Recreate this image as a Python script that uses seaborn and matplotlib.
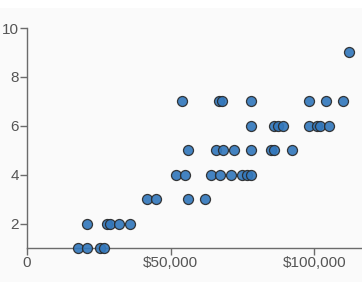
import matplotlib
matplotlib.use("Agg")
import matplotlib.pyplot as plt
import seaborn as sns
import pandas as pd
from matplotlib.patches import Rectangle

# Data (income in dollars, rating)
income = [17800, 20900, 25500, 26800,
          20900, 27700, 29000, 31900, 35900,
          41900, 44800, 56100, 62000,
          51800, 54900, 64000, 67100, 71000, 74900, 76700, 77900,
          56100, 65900, 68100, 72000, 77900, 85000, 86100, 92100,
          78000, 85900, 87500, 89000, 98000, 100900, 102100, 105100,
          54000, 66900, 68000, 78000, 98000, 104100, 110100,
          112000]
rating = [1, 1, 1, 1,
          2, 2, 2, 2, 2,
          3, 3, 3, 3,
          4, 4, 4, 4, 4, 4, 4, 4,
          5, 5, 5, 5, 5, 5, 5, 5,
          6, 6, 6, 6, 6, 6, 6, 6,
          7, 7, 7, 7, 7, 7, 7,
          9]
x_ticks = [0, 50000, 100000]
x_tick_labels = ["0", "$50,000", "$100,000"]
y_ticks = [2, 4, 6, 8, 10]

df = pd.DataFrame({"income": income, "rating": rating})

sns.set_style("ticks")
plt.rcParams["font.family"] = ["Liberation Sans", "DejaVu Sans"]

W, H = 362, 282
fig = plt.figure(figsize=(W / 100, H / 100), dpi=100, facecolor="#fafafa")
fig.patches.append(Rectangle((0, 1 - 8 / H), 1, 8 / H, transform=fig.transFigure,
                             facecolor="white", edgecolor="none", zorder=-1))
ax = fig.add_axes([27 / W, 34 / H, 335 / W, 220 / H])
ax.set_facecolor("none")

sns.scatterplot(data=df, x="income", y="rating", ax=ax, s=52,
                color="#3479bd", edgecolor="#2a2a2a", linewidth=0.9,
                alpha=0.92, clip_on=False, zorder=3, legend=False)

ax.set_xlim(0, 116600)
ax.set_ylim(1, 10)
ax.set_xticks(x_ticks)
ax.set_xticklabels(x_tick_labels)
ax.set_yticks(y_ticks)
ax.set_xlabel("")
ax.set_ylabel("")

for s in ["top", "right"]:
    ax.spines[s].set_visible(False)
for s in ["left", "bottom"]:
    ax.spines[s].set_color("#6b6b6b")
    ax.spines[s].set_linewidth(1.0)

ax.tick_params(axis="both", colors="#6b6b6b", labelcolor="#555555",
               labelsize=11, length=5, width=1.0, pad=1)

fig.savefig("out.png", dpi=100, facecolor=fig.get_facecolor())
